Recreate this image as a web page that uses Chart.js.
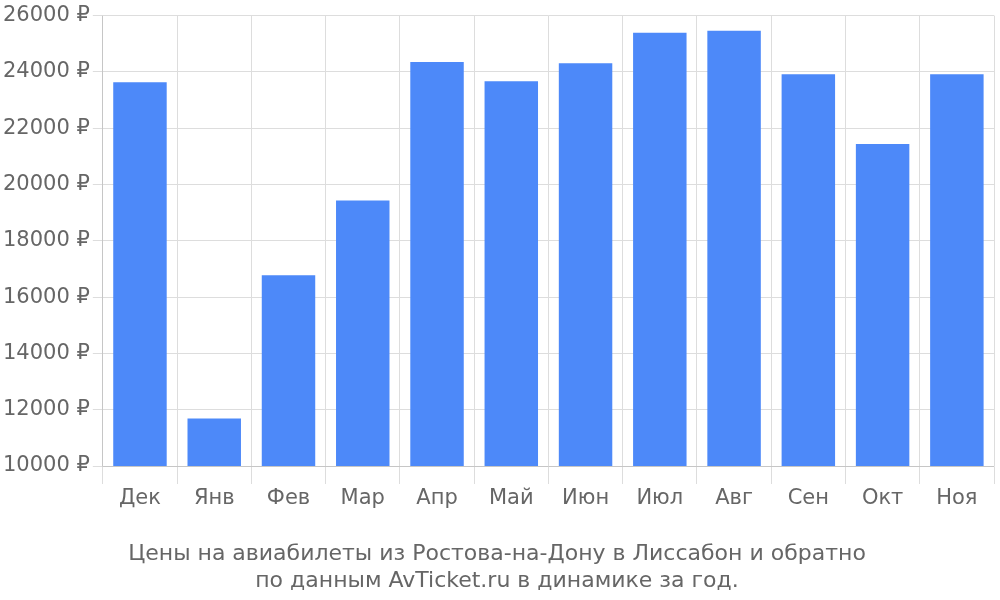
<!DOCTYPE html>
<html>
<head>
<meta charset="utf-8">
<script src="https://cdn.jsdelivr.net/npm/chart.js@4"></script>
<style>
  html, body { margin: 0; padding: 0; background: #fff; }
</style>
</head>
<body>
<canvas id="chart" width="1000" height="600"></canvas>
<script>
const months = ["Дек", "Янв", "Фев", "Мар", "Апр", "Май", "Июн", "Июл", "Авг", "Сен", "Окт", "Ноя"];
const prices = [23630, 11690, 16780, 19430, 24350, 23670, 24310, 25390, 25460, 23920, 21440, 23920];
const titleLines = ["Цены на авиабилеты из Ростова-на-Дону в Лиссабон и обратно", "по данным AvTicket.ru в динамике за год."];

Chart.defaults.font.family = "DejaVu Sans";
Chart.defaults.color = "#666";

new Chart(document.getElementById("chart").getContext("2d"), {
    type: "bar",
    data: {
        labels: months,
        datasets: [{
            data: prices,
            backgroundColor: "#4d89f9",
            categoryPercentage: 0.72,
            barPercentage: 1,
        }],
    },
    options: {
        responsive: false,
        animation: false,
        layout: { padding: { right: 6, top: 8 } },
        plugins: {
            legend: { display: false },
            tooltip: { enabled: false },
            title: {
                display: true,
                position: "bottom",
                text: titleLines,
                font: { size: 22, weight: "normal", family: "DejaVu Sans" },
                color: "#666",
                padding: { top: 28, bottom: 6 },
                lineHeight: 1.25,
            },
        },
        scales: {
            x: {
                grid: { color: "#ddd", offset: true, tickLength: 18 },
                ticks: { font: { size: 21 }, padding: 2, maxRotation: 0 },
            },
            y: {
                min: 10000,
                max: 26000,
                grid: { color: "#ddd", tickLength: 10 },
                ticks: {
                    stepSize: 2000,
                    font: { size: 21 },
                    callback: (v) => v + " ₽",
                },
            },
        },
    },
});
</script>
</body>
</html>
